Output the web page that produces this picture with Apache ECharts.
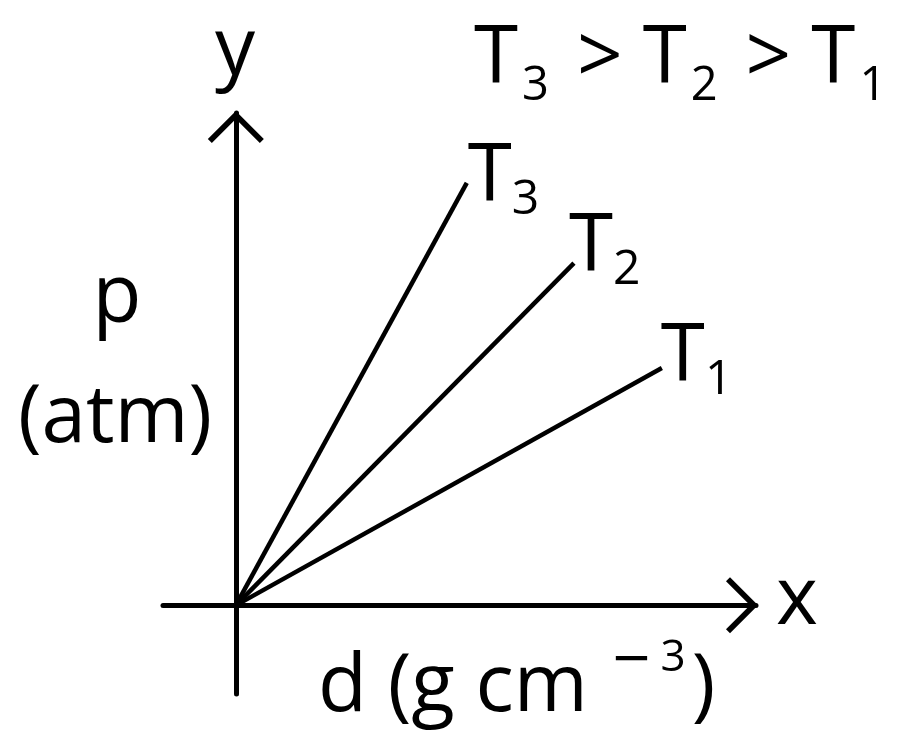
<!DOCTYPE html>
<html>
<head>
<meta charset="UTF-8">
<title>p - d</title>
<script src="https://cdn.jsdelivr.net/npm/echarts@6.0.0/dist/echarts.min.js"></script>
<style>
html, body { margin: 0; padding: 0; background: #fff; }
#chart { width: 900px; height: 753px; }
</style>
</head>
<body>
<div id="chart"></div>
<script>
// three isotherms through the origin, end points (arbitrary units)
var seriesNames = ['T3', 'T2', 'T1'];
var subscripts = ['3', '2', '1'];
var endX = [4.44, 6.50, 8.19];
var endY = [8.58, 6.95, 4.82];
var xRange = [-1.4, 10];
var yRange = [-1.8, 10];

var FONT = 'Open Sans';
var labelOffsets = [[-4, 1], [-10, -9], [-6, -4]];

var tRich = {
	T: { fontFamily: FONT, fontSize: 80, fontWeight: 'normal', lineHeight: 80, color: '#000', padding: [0, 0, 12, 0] },
	s: { fontFamily: FONT, fontSize: 48, fontWeight: 'normal', lineHeight: 48, color: '#000', verticalAlign: 'bottom' }
};
var titleRich = {
	T: { fontFamily: FONT, fontSize: 80, fontWeight: 'normal', lineHeight: 80, color: '#000', padding: [0, 0, 20, 0] },
	s: { fontFamily: FONT, fontSize: 47, fontWeight: 'normal', lineHeight: 47, color: '#000', verticalAlign: 'bottom', padding: [0, 0, 0, 4] },
	g: { fontFamily: FONT, fontSize: 80, fontWeight: 'normal', lineHeight: 80, color: '#000', padding: [0, 20, 20, 28] }
};

// open chevron used as arrow head
var arrowHead = 'path://M28 0 L56 28 L52 32 L28 8 L4 32 L0 28 Z';

function axisCfg(range) {
	return {
		type: 'value',
		min: range[0],
		max: range[1],
		axisTick: { show: false },
		axisLabel: { show: false },
		splitLine: { show: false },
		axisLine: {
			show: true,
			onZero: true,
			symbol: ['none', arrowHead],
			symbolSize: [56, 32],
			symbolOffset: [0, -14],
			lineStyle: { color: '#000', width: 5 }
		}
	};
}

var chart = echarts.init(document.getElementById('chart'));
var option = {
	animation: false,
	backgroundColor: '#fff',
	title: {
		left: 474,
		top: 30,
		padding: 0,
		text: '{T|T}{s|3}{g|>}{T|T}{s|2}{g|>}{T|T}{s|1}',
		textStyle: { fontWeight: 'normal', rich: titleRich }
	},
	grid: { left: 163, right: 144, top: 113, bottom: 59 },
	xAxis: axisCfg(xRange),
	yAxis: axisCfg(yRange),
	graphic: [
		{ type: 'text', style: { text: 'y', x: 235, y: 52, font: '80px "' + FONT + '"', fill: '#000', align: 'center', verticalAlign: 'middle' } },
		{ type: 'text', style: { text: 'x', x: 797, y: 601, font: '80px "' + FONT + '"', fill: '#000', align: 'center', verticalAlign: 'middle' } },
		{ type: 'text', style: { text: 'p', x: 117, y: 299, font: '80px "' + FONT + '"', fill: '#000', align: 'center', verticalAlign: 'middle' } },
		{ type: 'text', style: { text: '(atm)', x: 115, y: 419, font: '80px "' + FONT + '"', fill: '#000', align: 'center', verticalAlign: 'middle' } },
		{
			type: 'text',
			style: {
				text: '{n|d (g cm }{sup|−}{sup3|3}{n|)}',
				x: 318, y: 676, align: 'left', verticalAlign: 'middle',
				rich: {
					n: { fontFamily: FONT, fontSize: 80, lineHeight: 80, fill: '#000', padding: [24, 0, 0, 0] },
					sup: { fontFamily: 'DejaVu Sans', fontSize: 50, lineHeight: 44, fill: '#000', verticalAlign: 'top', padding: [0, 0, 0, 2] },
					sup3: { fontFamily: FONT, fontSize: 44, lineHeight: 44, fill: '#000', verticalAlign: 'top', padding: [0, 6, 0, 8] }
				}
			}
		}
	],
	series: seriesNames.map(function (name, i) {
		return {
			name: name,
			type: 'line',
			silent: true,
			symbol: 'circle',
			symbolSize: 0,
			showSymbol: true,
			itemStyle: { color: '#000' },
			lineStyle: { color: '#000', width: 4.5 },
			data: [
				[0, 0],
				{
					value: [endX[i], endY[i]],
					label: {
						show: true,
						position: 'right',
						offset: labelOffsets[i],
						formatter: '{T|T}{s|' + subscripts[i] + '}',
						rich: tRich
					}
				}
			]
		};
	})
};
chart.setOption(option);
window.addEventListener('resize', function () { chart.resize(); });
</script>
</body>
</html>
